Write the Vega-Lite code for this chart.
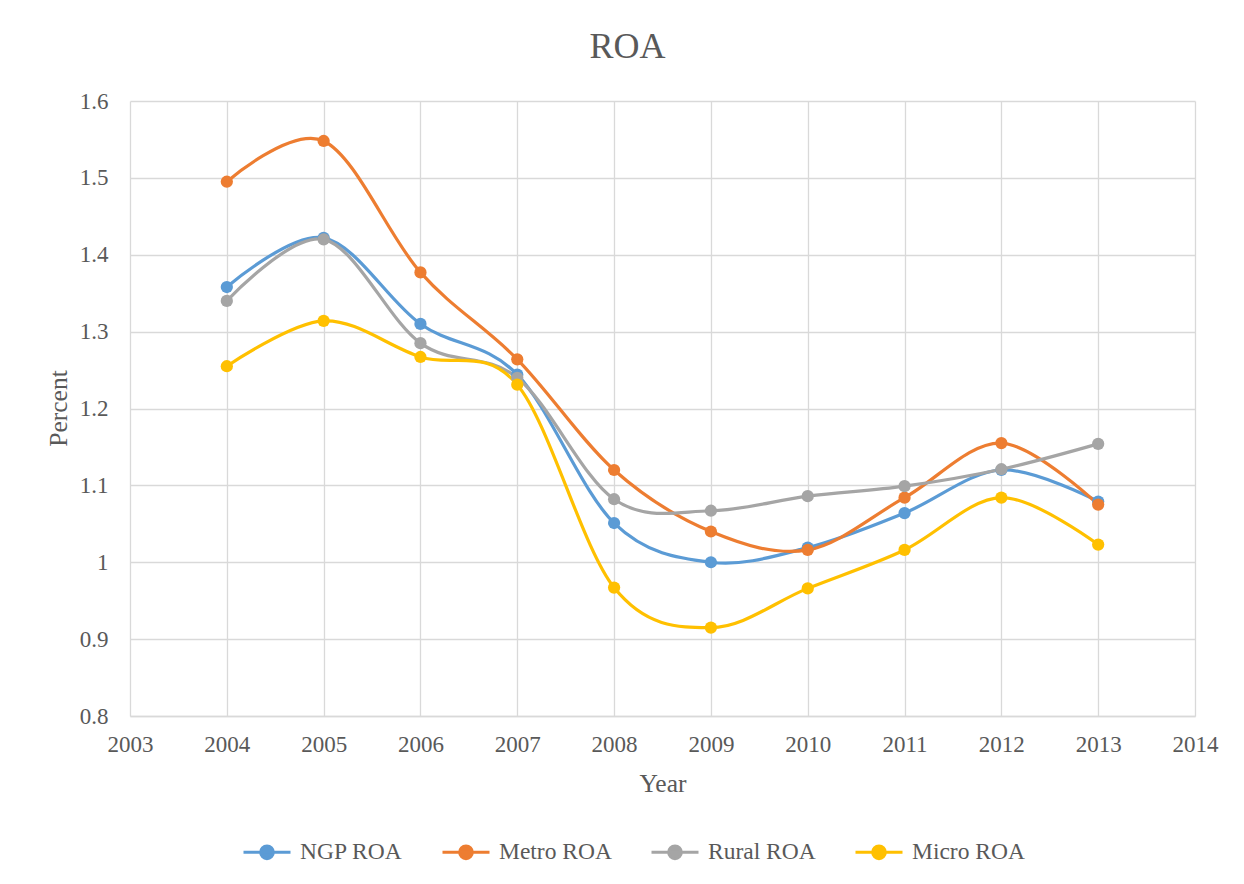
{
  "$schema": "https://vega.github.io/schema/vega-lite/v6.json",
  "autosize": "none",
  "width": 1065,
  "height": 615,
  "padding": {"left": 130, "top": 101, "right": 49, "bottom": 168},
  "background": "white",
  "title": {"text": "ROA", "anchor": "middle", "dx": -35, "offset": 24, "font": "Liberation Serif", "fontSize": 36, "fontWeight": "normal", "color": "#595959"},
  "config": {
    "view": {"stroke": null},
    "font": "Liberation Serif",
    "axis": {"labelFont": "Liberation Serif", "titleFont": "Liberation Serif"},
    "legend": {"labelFont": "Liberation Serif", "titleFont": "Liberation Serif"}
  },
  "data": {"values": [
    {"series": "NGP ROA", "year": 2004, "value": 1.358},
    {"series": "NGP ROA", "year": 2005, "value": 1.422},
    {"series": "NGP ROA", "year": 2006, "value": 1.310},
    {"series": "NGP ROA", "year": 2007, "value": 1.244},
    {"series": "NGP ROA", "year": 2008, "value": 1.051},
    {"series": "NGP ROA", "year": 2009, "value": 1.000},
    {"series": "NGP ROA", "year": 2010, "value": 1.019},
    {"series": "NGP ROA", "year": 2011, "value": 1.064},
    {"series": "NGP ROA", "year": 2012, "value": 1.120},
    {"series": "NGP ROA", "year": 2013, "value": 1.079},
    {"series": "Metro ROA", "year": 2004, "value": 1.495},
    {"series": "Metro ROA", "year": 2005, "value": 1.548},
    {"series": "Metro ROA", "year": 2006, "value": 1.377},
    {"series": "Metro ROA", "year": 2007, "value": 1.264},
    {"series": "Metro ROA", "year": 2008, "value": 1.120},
    {"series": "Metro ROA", "year": 2009, "value": 1.040},
    {"series": "Metro ROA", "year": 2010, "value": 1.016},
    {"series": "Metro ROA", "year": 2011, "value": 1.084},
    {"series": "Metro ROA", "year": 2012, "value": 1.155},
    {"series": "Metro ROA", "year": 2013, "value": 1.075},
    {"series": "Rural ROA", "year": 2004, "value": 1.340},
    {"series": "Rural ROA", "year": 2005, "value": 1.420},
    {"series": "Rural ROA", "year": 2006, "value": 1.285},
    {"series": "Rural ROA", "year": 2007, "value": 1.240},
    {"series": "Rural ROA", "year": 2008, "value": 1.082},
    {"series": "Rural ROA", "year": 2009, "value": 1.067},
    {"series": "Rural ROA", "year": 2010, "value": 1.086},
    {"series": "Rural ROA", "year": 2011, "value": 1.099},
    {"series": "Rural ROA", "year": 2012, "value": 1.121},
    {"series": "Rural ROA", "year": 2013, "value": 1.154},
    {"series": "Micro ROA", "year": 2004, "value": 1.255},
    {"series": "Micro ROA", "year": 2005, "value": 1.314},
    {"series": "Micro ROA", "year": 2006, "value": 1.267},
    {"series": "Micro ROA", "year": 2007, "value": 1.231},
    {"series": "Micro ROA", "year": 2008, "value": 0.967},
    {"series": "Micro ROA", "year": 2009, "value": 0.915},
    {"series": "Micro ROA", "year": 2010, "value": 0.966},
    {"series": "Micro ROA", "year": 2011, "value": 1.016},
    {"series": "Micro ROA", "year": 2012, "value": 1.084},
    {"series": "Micro ROA", "year": 2013, "value": 1.023}
  ]},
  "encoding": {
    "x": {
      "field": "year", "type": "quantitative",
      "scale": {"domain": [2003, 2014], "nice": false, "zero": false},
      "axis": {
        "title": "Year", "values": [2003, 2004, 2005, 2006, 2007, 2008, 2009, 2010, 2011, 2012, 2013, 2014],
        "format": "d", "labelFlush": false, "ticks": false, "labelPadding": 17,
        "labelFont": "Liberation Serif", "labelFontSize": 23, "labelColor": "#595959",
        "titleFont": "Liberation Serif", "titleFontSize": 25.5, "titleFontWeight": "normal", "titleColor": "#595959",
        "titleY": 67, "titleBaseline": "middle",
        "grid": true, "gridColor": "#d9d9d9", "gridWidth": 1.3,
        "domainColor": "#d9d9d9", "domainWidth": 1.3
      }
    },
    "y": {
      "field": "value", "type": "quantitative",
      "scale": {"domain": [0.8, 1.6], "nice": false, "zero": false},
      "axis": {
        "title": "Percent", "values": [0.8, 0.9, 1, 1.1, 1.2, 1.3, 1.4, 1.5, 1.6],
        "format": ".2~f", "ticks": false, "domain": false, "labelPadding": 22,
        "labelFont": "Liberation Serif", "labelFontSize": 23, "labelColor": "#595959",
        "titleFont": "Liberation Serif", "titleFontSize": 25.5, "titleFontWeight": "normal", "titleColor": "#595959",
        "titleX": -72, "titleY": 307, "titleBaseline": "middle", "titleAlign": "center",
        "grid": true, "gridColor": "#d9d9d9", "gridWidth": 1.3
      }
    },
    "color": {
      "field": "series", "type": "nominal",
      "scale": {"domain": ["NGP ROA", "Metro ROA", "Rural ROA", "Micro ROA"], "range": ["#5B9BD5", "#ED7D31", "#A5A5A5", "#FFC000"]},
      "legend": {
        "title": null, "orient": "none", "direction": "horizontal", "legendX": 112, "legendY": 726,
        "symbolType": "M-1,0L1,0M0.27,0A0.27,0.27,0,1,1,-0.27,0A0.27,0.27,0,1,1,0.27,0",
        "symbolSize": 2209, "symbolStrokeWidth": 3, "symbolOpacity": 1,
        "labelFont": "Liberation Serif", "labelFontSize": 23.5, "labelColor": "#595959",
        "labelOffset": 8, "columnPadding": 33, "labelLimit": 300
      }
    }
  },
  "layer": [
    {"mark": {"type": "line", "interpolate": "cardinal", "strokeWidth": 3.2}},
    {"mark": {"type": "point", "filled": true, "size": 150, "opacity": 1}}
  ]
}
